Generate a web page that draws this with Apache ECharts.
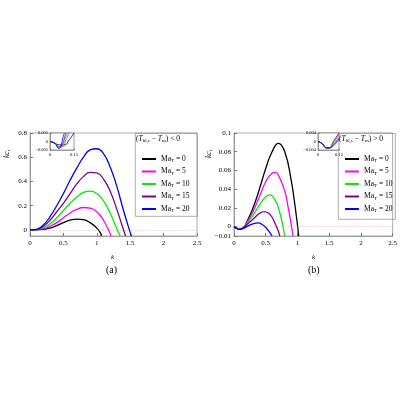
<!DOCTYPE html><html><head><meta charset="utf-8"><script src="https://cdn.jsdelivr.net/npm/echarts@6/dist/echarts.min.js"></script>
<style>html,body{margin:0;background:#fff}#c{width:400px;height:400px}</style></head><body><div id="c"></div><script>
const maValues=[0,5,10,15,20];
const colors=['#000000','#ff00ff','#00ee00','#800080','#0000ff'];
const xTicksMain=[0,0.5,1,1.5,2,2.5];
const yTicksA=[-0.05,0,0.2,0.4,0.6,0.8];
const yTicksB=[-0.01,0,0.02,0.04,0.06,0.08,0.1];
const curvesA=[
[[0,0],[0.1,0],[0.2,0.005],[0.3,0.015],[0.4,0.035],[0.5,0.06],[0.6,0.08],[0.7,0.09],[0.8,0.085],[0.9,0.06],[1.0,0.015],[1.05,-0.02],[1.07,-0.05]],
[[0,0],[0.1,0.001],[0.2,0.01],[0.3,0.03],[0.4,0.06],[0.5,0.1],[0.6,0.14],[0.7,0.17],[0.8,0.185],[0.9,0.18],[1.0,0.15],[1.1,0.08],[1.2,-0.03],[1.21,-0.05]],
[[0,0],[0.1,0.002],[0.2,0.02],[0.3,0.05],[0.4,0.1],[0.5,0.16],[0.6,0.22],[0.7,0.27],[0.8,0.31],[0.9,0.32],[1.0,0.3],[1.1,0.24],[1.2,0.14],[1.3,0.01],[1.35,-0.05]],
[[0,0],[0.1,0.003],[0.2,0.03],[0.3,0.08],[0.4,0.15],[0.5,0.22],[0.6,0.3],[0.7,0.38],[0.8,0.44],[0.9,0.475],[1.0,0.47],[1.1,0.42],[1.2,0.32],[1.3,0.17],[1.4,0],[1.43,-0.05]],
[[0,0],[0.1,0.005],[0.2,0.04],[0.3,0.11],[0.4,0.2],[0.5,0.3],[0.6,0.41],[0.7,0.51],[0.8,0.6],[0.9,0.66],[1.0,0.67],[1.1,0.63],[1.2,0.52],[1.3,0.36],[1.4,0.16],[1.5,-0.02],[1.52,-0.05]]];
const curvesB=[
[[0,0],[0.05,-0.002],[0.08,-0.003],[0.15,-0.001],[0.2,0.005],[0.3,0.02],[0.4,0.04],[0.5,0.062],[0.6,0.08],[0.7,0.089],[0.8,0.08],[0.9,0.05],[0.95,0.028],[1.0,0.002],[1.02,-0.01]],
[[0,0],[0.05,-0.002],[0.08,-0.003],[0.15,-0.001],[0.2,0.004],[0.3,0.016],[0.4,0.032],[0.5,0.048],[0.6,0.057],[0.65,0.058],[0.7,0.055],[0.8,0.038],[0.85,0.022],[0.9,0.003],[0.93,-0.01]],
[[0,0],[0.05,-0.002],[0.08,-0.003],[0.15,-0.001],[0.2,0.003],[0.3,0.012],[0.4,0.023],[0.5,0.032],[0.57,0.034],[0.65,0.028],[0.7,0.02],[0.76,0.004],[0.8,-0.01]],
[[0,0],[0.05,-0.002],[0.08,-0.003],[0.15,-0.001],[0.2,0.002],[0.3,0.008],[0.4,0.014],[0.48,0.016],[0.55,0.014],[0.6,0.01],[0.65,0.003],[0.7,-0.005],[0.72,-0.01]],
[[0,0],[0.05,-0.002],[0.08,-0.003],[0.15,-0.002],[0.2,0],[0.3,0.003],[0.38,0.004],[0.45,0.002],[0.5,-0.001],[0.55,-0.005],[0.6,-0.01]]];
const insetA=[
[[0,0],[0.03,-0.001],[0.06,-0.002],[0.09,-0.002],[0.12,0.001],[0.15,0.005]],
[[0,0],[0.03,-0.001],[0.06,-0.003],[0.08,-0.003],[0.1,0.001],[0.12,0.005]],
[[0,0],[0.03,-0.001],[0.06,-0.003],[0.08,-0.002],[0.095,0.002],[0.11,0.005]],
[[0,0],[0.03,-0.001],[0.06,-0.004],[0.075,-0.002],[0.09,0.002],[0.1,0.005]],
[[0,0],[0.03,-0.001],[0.055,-0.004],[0.07,-0.002],[0.08,0.002],[0.09,0.005]]];
const insetB=[
[[0,0],[0.03,-0.001],[0.06,-0.003],[0.08,-0.003],[0.11,0],[0.15,0.004]],
[[0,0],[0.03,-0.001],[0.06,-0.003],[0.08,-0.003],[0.11,-0.0005],[0.15,0.003]],
[[0,0],[0.03,-0.001],[0.06,-0.003],[0.08,-0.003],[0.11,-0.001],[0.15,0.002]],
[[0,0],[0.03,-0.001],[0.06,-0.003],[0.08,-0.003],[0.11,-0.0015],[0.15,0.0015]],
[[0,0],[0.03,-0.001],[0.06,-0.003],[0.08,-0.003],[0.11,-0.002],[0.15,0.001]]];
const legendNames=maValues.map(v=>'MaT'+v);
const F='Liberation Serif';
const rich={m:{fontFamily:F,fontSize:7.5,color:'#000'},i:{fontFamily:F,fontStyle:'italic',fontSize:7.5,color:'#000'},s:{fontFamily:F,fontSize:5,color:'#000',padding:[4,0,0,0]}};
const ch=echarts.init(document.getElementById('c'));
function xAx(i,min,max,ticks,small){return{gridIndex:i,type:'value',min,max,z:small?12:2,axisLine:{onZero:false,lineStyle:{color:'#777',width:0.6}},axisTick:{inside:true,length:small?1.5:3,lineStyle:{color:'#777'},customValues:ticks},splitLine:{show:false},axisLabel:{customValues:ticks,fontFamily:F,fontSize:small?4.5:7,color:'#000',margin:small?2:4,formatter:v=>String(v)}};}
function yAx(i,min,max,ticks,small){return{gridIndex:i,type:'value',min,max,z:small?12:2,axisLine:{onZero:false,lineStyle:{color:'#777',width:0.6}},axisTick:{inside:true,length:small?1.5:3,lineStyle:{color:'#777'},customValues:ticks},splitLine:{show:false},axisLabel:{customValues:ticks,fontFamily:F,fontSize:small?4.5:7,color:'#000',margin:small?2:3,formatter:v=>v<0?'\u2212'+String(-v):String(v)}};}
const series=[];
function add(curves,xi,named,w,inset){curves.forEach((d,j)=>{series.push({type:'line',name:named?legendNames[j]:undefined,xAxisIndex:xi,yAxisIndex:xi,data:d,smooth:0.5,showSymbol:false,clip:true,lineStyle:{color:colors[j],width:w},itemStyle:{color:colors[j]},z:(inset?12:3)+j,
markLine:j===0?{silent:true,symbol:'none',label:{show:false},lineStyle:{color:'#f4b8b8',type:'dashed',width:0.6},data:[{yAxis:0}]}:undefined});});}
add(curvesA,0,true,1.3,false);add(curvesB,1,false,1.3,false);add(insetA,2,false,0.8,true);add(insetB,3,false,0.8,true);
function leg(left){return{left,top:150,orient:'vertical',itemWidth:14,itemHeight:2,itemGap:4,icon:'rect',data:legendNames,formatter:n=>'{m|Ma}{s|T}{m| = '+n.slice(3)+'}',textStyle:{rich}};}
const title=(x,s)=>({type:'text',left:x,top:135,z:20,style:{text:'{m|(}{i|T}{s|bl,s}{m| \u2212 }{i|T}{s|m}{m|) '+s+' 0}',rich}});
ch.setOption({animation:false,
grid:[{left:30,top:133,width:167,height:103,show:true,borderColor:'#777',borderWidth:0.6},
{left:234,top:133,width:161,height:103,show:true,borderColor:'#777',borderWidth:0.6},
{left:50,top:133,width:24,height:17,show:true,borderColor:'#555',borderWidth:0.6,backgroundColor:'#fff',z:10},
{left:318,top:133,width:21,height:17,show:true,borderColor:'#555',borderWidth:0.6,backgroundColor:'#fff',z:10}],
xAxis:[xAx(0,0,2.5,xTicksMain),xAx(1,0,2.5,xTicksMain),xAx(2,0,0.15,[0,0.15],true),xAx(3,0,0.15,[0,0.15],true)],
yAxis:[yAx(0,-0.05,0.8,yTicksA),yAx(1,-0.01,0.1,yTicksB),yAx(2,-0.005,0.005,[-0.005,0,0.005],true),yAx(3,-0.004,0.004,[-0.004,0,0.004],true)],
legend:[leg(137),leg(340)],
series,
graphic:[
{type:'rect',left:135,top:133,shape:{width:62,height:83},style:{fill:'#fff',stroke:'#777',lineWidth:0.6},z:-1},
{type:'rect',left:338,top:133,shape:{width:57,height:86},style:{fill:'#fff',stroke:'#777',lineWidth:0.6},z:-1},
title(136,'<'),title(339,'>'),
{type:'text',left:3,top:150,rotation:Math.PI/2,style:{text:'{i|kc}{s|i}',rich}},
{type:'text',left:205,top:150,rotation:Math.PI/2,style:{text:'{i|kc}{s|i}',rich}},
{type:'text',left:111,top:254,style:{text:'k',font:'italic 7px "Liberation Serif"'}},
{type:'text',left:312,top:254,style:{text:'k',font:'italic 7px "Liberation Serif"'}},
{type:'text',left:106,top:265,style:{text:'(a)',font:'10px "Liberation Serif"'}},
{type:'text',left:308,top:265,style:{text:'(b)',font:'10px "Liberation Serif"'}}]});
</script></body></html>
